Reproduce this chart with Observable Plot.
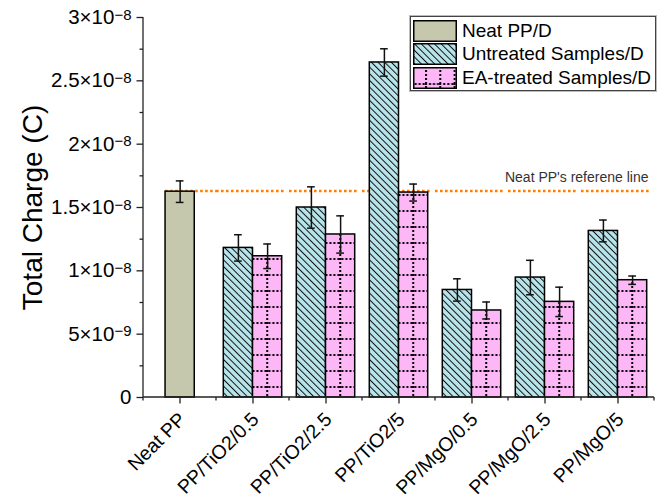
<!DOCTYPE html>
<html>
<head>
<meta charset="utf-8">
<script src="https://cdn.jsdelivr.net/npm/d3@7"></script>
<script src="https://cdn.jsdelivr.net/npm/@observablehq/plot@0.6"></script>
<style>
  body { margin: 0; background: white; }
  #wrap { position: relative; width: 672px; height: 500px; font-family: 'Liberation Sans', Arial, sans-serif; }
  #legend { position: absolute; left: 410px; top: 16px; width: 244px; height: 73px; border: 1px solid #444; box-shadow: 0 0 0 1px #bbb; background: white; }
  .item { position: absolute; left: 2px; height: 21px; display: flex; align-items: center; }
  .item svg { display: block; }
  .item span { margin-left: 5px; font-size: 19px; color: #000; white-space: nowrap; }
</style>
</head>
<body>
<div id="wrap"><div id="legend"></div></div>
<script>
// ---------------- data ----------------
const categories = ["Neat PP", "PP/TiO2/0.5", "PP/TiO2/2.5", "PP/TiO2/5", "PP/MgO/0.5", "PP/MgO/2.5", "PP/MgO/5"];
const seriesNames = ["Neat PP/D", "Untreated Samples/D", "EA-treated Samples/D"];
const neatValue = [1.625e-8];
const neatErr = [0.085e-8];
const untreatedValues = [1.181e-8, 1.500e-8, 2.645e-8, 0.849e-8, 0.947e-8, 1.315e-8];
const untreatedErr = [0.104e-8, 0.163e-8, 0.108e-8, 0.088e-8, 0.136e-8, 0.086e-8];
const treatedValues = [1.115e-8, 1.287e-8, 1.618e-8, 0.687e-8, 0.755e-8, 0.926e-8];
const treatedErr = [0.097e-8, 0.147e-8, 0.067e-8, 0.067e-8, 0.116e-8, 0.033e-8];
const referenceValue = [1.63e-8];
const referenceLabel = ["Neat PP's referene line"];
const yDomain = [0, 3e-8];
const yTicks = [0, 5e-9, 1e-8, 1.5e-8, 2e-8, 2.5e-8, 3e-8];
const yMinorTicks = [2.5e-9, 7.5e-9, 1.25e-8, 1.75e-8, 2.25e-8, 2.75e-8];
const yTitle = "Total Charge (C)";

// ---------------- layout ----------------
const W = 672, H = 500, ML = 140, MR = 16, MT = 17, MB = 103;
const facetW = (W - ML - MR) / categories.length;
const bw = facetW / 2.5;          // bar width
const capW = 8;
const capInset = (bw - capW) / 2;
const [NEAT, UNT, EA] = seriesNames;

const neatRows = neatValue.map((v, i) => ({cat: categories[0], series: NEAT, value: v, err: neatErr[i]}));
const untRows = untreatedValues.map((v, i) => ({cat: categories[i + 1], series: UNT, value: v, err: untreatedErr[i]}));
const eaRows = treatedValues.map((v, i) => ({cat: categories[i + 1], series: EA, value: v, err: treatedErr[i]}));
const groupRows = untRows.concat(eaRows);
const refFirst = [{cat: categories[0], v: referenceValue[0]}];
const refRest = categories.slice(1).map(c => ({cat: c, v: referenceValue[0]}));
const refText = [{cat: categories[categories.length - 1], v: referenceValue[0], t: referenceLabel[0]}];
const titleRow = [{cat: categories[0], t: yTitle, y: (yDomain[0] + yDomain[1]) / 2}];
const catRows = categories.map(c => ({cat: c}));
const yTickRows = yTicks.map(v => ({cat: categories[0], v}));

// ---------------- patterns ----------------
const UNT_BG = "#b8e5eb", EA_BG = "#fdb7f7", NEAT_BG = "#c5c8ad";
document.body.insertAdjacentHTML("afterbegin", `
<svg width="0" height="0" style="position:absolute">
  <defs>
    <pattern id="hatch" patternUnits="userSpaceOnUse" width="4.7" height="4.7" patternTransform="rotate(-45)">
      <rect width="4.7" height="4.7" fill="${UNT_BG}"/>
      <line x1="0.5" y1="-1" x2="0.5" y2="6" stroke="#111" stroke-width="1"/>
    </pattern>
    <pattern id="dots" patternUnits="userSpaceOnUse" width="${bw}" height="16">
      <rect width="${bw}" height="16" fill="${EA_BG}"/>
      <line x1="0" y1="1" x2="${bw}" y2="1" stroke="#000" stroke-width="2" stroke-dasharray="2 2"/>
      <line x1="${bw / 2}" y1="0" x2="${bw / 2}" y2="16" stroke="#000" stroke-width="2" stroke-dasharray="2 2"/>
    </pattern>
    <pattern id="dotsLeg" patternUnits="userSpaceOnUse" x="12" y="0" width="14.3" height="40">
      <rect width="14.3" height="40" fill="${EA_BG}"/>
      <line x1="1" y1="3" x2="1" y2="40" stroke="#000" stroke-width="2" stroke-dasharray="2 2"/>
      <line x1="0" y1="17" x2="14.3" y2="17" stroke="#000" stroke-width="2" stroke-dasharray="2 2"/>
    </pattern>
  </defs>
</svg>`);

// ---------------- tick format ----------------
const sup = {};
function fmt(v) {
  if (v === 0) return "0";
  const e = Math.floor(Math.log10(v) + 1e-9);
  const m = +(v / Math.pow(10, e)).toFixed(1);
  const s = `${m}×10^${e}`;
  sup[s] = [`${m}×10`, `\u2212${-e}`];
  return s;
}

const plot = Plot.plot({
  width: W, height: H,
  marginLeft: ML, marginRight: MR, marginTop: MT, marginBottom: MB,
  style: {fontFamily: "'Liberation Sans', Arial, sans-serif", color: "#000", background: "white", overflow: "visible"},
  fx: {domain: categories, padding: 0, axis: null, label: null},
  x: {domain: [UNT, EA], paddingInner: 0, paddingOuter: 0.25, axis: null, round: false},
  y: {domain: yDomain, axis: null},
  marks: [
    // reference line
    Plot.ruleY(refFirst, {fx: "cat", y: "v", stroke: "#ff8000", strokeWidth: 2.6, strokeDasharray: "2.6 2.4", insetLeft: 0.75 * bw}),
    Plot.ruleY(refRest, {fx: "cat", y: "v", stroke: "#ff8000", strokeWidth: 2.6, strokeDasharray: "2.6 2.4", insetRight: 3}),
    // bars
    Plot.barY(neatRows, {fx: "cat", x: () => UNT, y: "value", dx: bw / 2, fill: NEAT_BG, stroke: "#000", strokeWidth: 1.5}),
    Plot.barY(untRows, {fx: "cat", x: "series", y: "value", fill: "url(#hatch)", stroke: "#000", strokeWidth: 1.5}),
    Plot.barY(eaRows, {fx: "cat", x: "series", y: "value", fill: "url(#dots)", stroke: "#000", strokeWidth: 1.5, className: "ea-bar"}),
    // error bars
    Plot.ruleX(neatRows, {fx: "cat", x: () => UNT, dx: bw / 2, y1: d => d.value - d.err, y2: d => d.value + d.err, stroke: "#111", strokeWidth: 1.5}),
    Plot.tickY(neatRows, {fx: "cat", x: () => UNT, dx: bw / 2, y: d => d.value + d.err, insetLeft: capInset, insetRight: capInset, stroke: "#111", strokeWidth: 1.5}),
    Plot.tickY(neatRows, {fx: "cat", x: () => UNT, dx: bw / 2, y: d => d.value - d.err, insetLeft: capInset, insetRight: capInset, stroke: "#111", strokeWidth: 1.5}),
    Plot.ruleX(groupRows, {fx: "cat", x: "series", y1: d => d.value - d.err, y2: d => d.value + d.err, stroke: "#111", strokeWidth: 1.5}),
    Plot.tickY(groupRows, {fx: "cat", x: "series", y: d => d.value + d.err, insetLeft: capInset, insetRight: capInset, stroke: "#111", strokeWidth: 1.5}),
    Plot.tickY(groupRows, {fx: "cat", x: "series", y: d => d.value - d.err, insetLeft: capInset, insetRight: capInset, stroke: "#111", strokeWidth: 1.5}),
    // reference label
    Plot.text(refText, {fx: "cat", y: "v", text: "t", frameAnchor: "right", textAnchor: "end", dx: -6, dy: -14, fontSize: 14, fill: "#333"}),
    // y title
    Plot.text(titleRow, {fx: "cat", y: "y", text: "t", frameAnchor: "left", textAnchor: "middle", rotate: -90, dx: -110, fontSize: 28, fill: "#000"}),
    // y tick labels
    Plot.text(yTickRows, {fx: "cat", y: "v", text: d => fmt(d.v), frameAnchor: "left", textAnchor: "end", dx: -12, fontSize: 20.5, fill: "#000", className: "ylab"}),
    // category labels
    Plot.text(catRows, {fx: "cat", text: "cat", frameAnchor: "bottom", rotate: -45, textAnchor: "end", dx: 7, dy: 23, fontSize: 19.5, fill: "#000"}),
    // axes ticks
    Plot.axisY(yMinorTicks, {tickSize: 3.5, tickFormat: () => "", stroke: "#222", strokeWidth: 1.3}),
    Plot.axisY(yTicks, {tickSize: 6.5, tickFormat: () => "", label: null, stroke: "#222", strokeWidth: 1.3}),
    Plot.axisFx({anchor: "bottom", tickSize: 6.5, tickFormat: () => "", label: null, stroke: "#222", strokeWidth: 1.3})
  ]
});

document.getElementById("wrap").prepend(plot);
const svg = plot.tagName.toLowerCase() === "svg" ? plot : plot.querySelector("svg");

// superscript exponents on y tick labels
svg.querySelectorAll(".ylab text").forEach(t => {
  const s = t.textContent;
  if (sup[s]) {
    t.textContent = sup[s][0];
    const ts = document.createElementNS("http://www.w3.org/2000/svg", "tspan");
    ts.setAttribute("dy", "-4.5");
    ts.setAttribute("font-size", "15px");
    ts.textContent = sup[s][1];
    t.appendChild(ts);
  }
});

// axis lines and minor x ticks, drawn from the plot's own scales
const fxS = plot.scale("fx"), yS = plot.scale("y");
const y0 = yS.apply(0), yTop = yS.apply(yDomain[1]);
const xL = fxS.apply(categories[0]);
const xR = fxS.apply(categories[categories.length - 1]) + fxS.bandwidth;
const g = d3.select(svg).append("g").attr("stroke", "#222").attr("stroke-width", 1.3);
g.append("line").attr("x1", xL).attr("x2", xL).attr("y1", y0).attr("y2", yTop);
g.append("line").attr("x1", xL).attr("x2", xR).attr("y1", y0).attr("y2", y0);
const bounds = categories.map(c => fxS.apply(c)).concat([xR]);
g.selectAll(".mt").data(bounds).join("line").attr("x1", d => d).attr("x2", d => d).attr("y1", y0).attr("y2", y0 + 3.5);

// align dotted pattern to the treated bars
const eaRect = svg.querySelector(".ea-bar rect");
if (eaRect) {
  const p = document.getElementById("dots");
  p.setAttribute("x", +eaRect.getAttribute("x") || 0);
  p.setAttribute("y", y0 - 11);
}

// legend
const legend = document.getElementById("legend");
const fills = ["" + NEAT_BG, "url(#hatch)", "url(#dotsLeg)"];
seriesNames.forEach((name, i) => {
  const div = document.createElement("div");
  div.className = "item";
  div.style.top = (3 + i * 23.8) + "px";
  div.innerHTML = `<svg width="44" height="22"><rect x="0.75" y="0.75" width="42.5" height="20.5" fill="${fills[i]}" stroke="#000" stroke-width="1.5"/></svg><span>${name}</span>`;
  legend.appendChild(div);
});
</script>
</body>
</html>
